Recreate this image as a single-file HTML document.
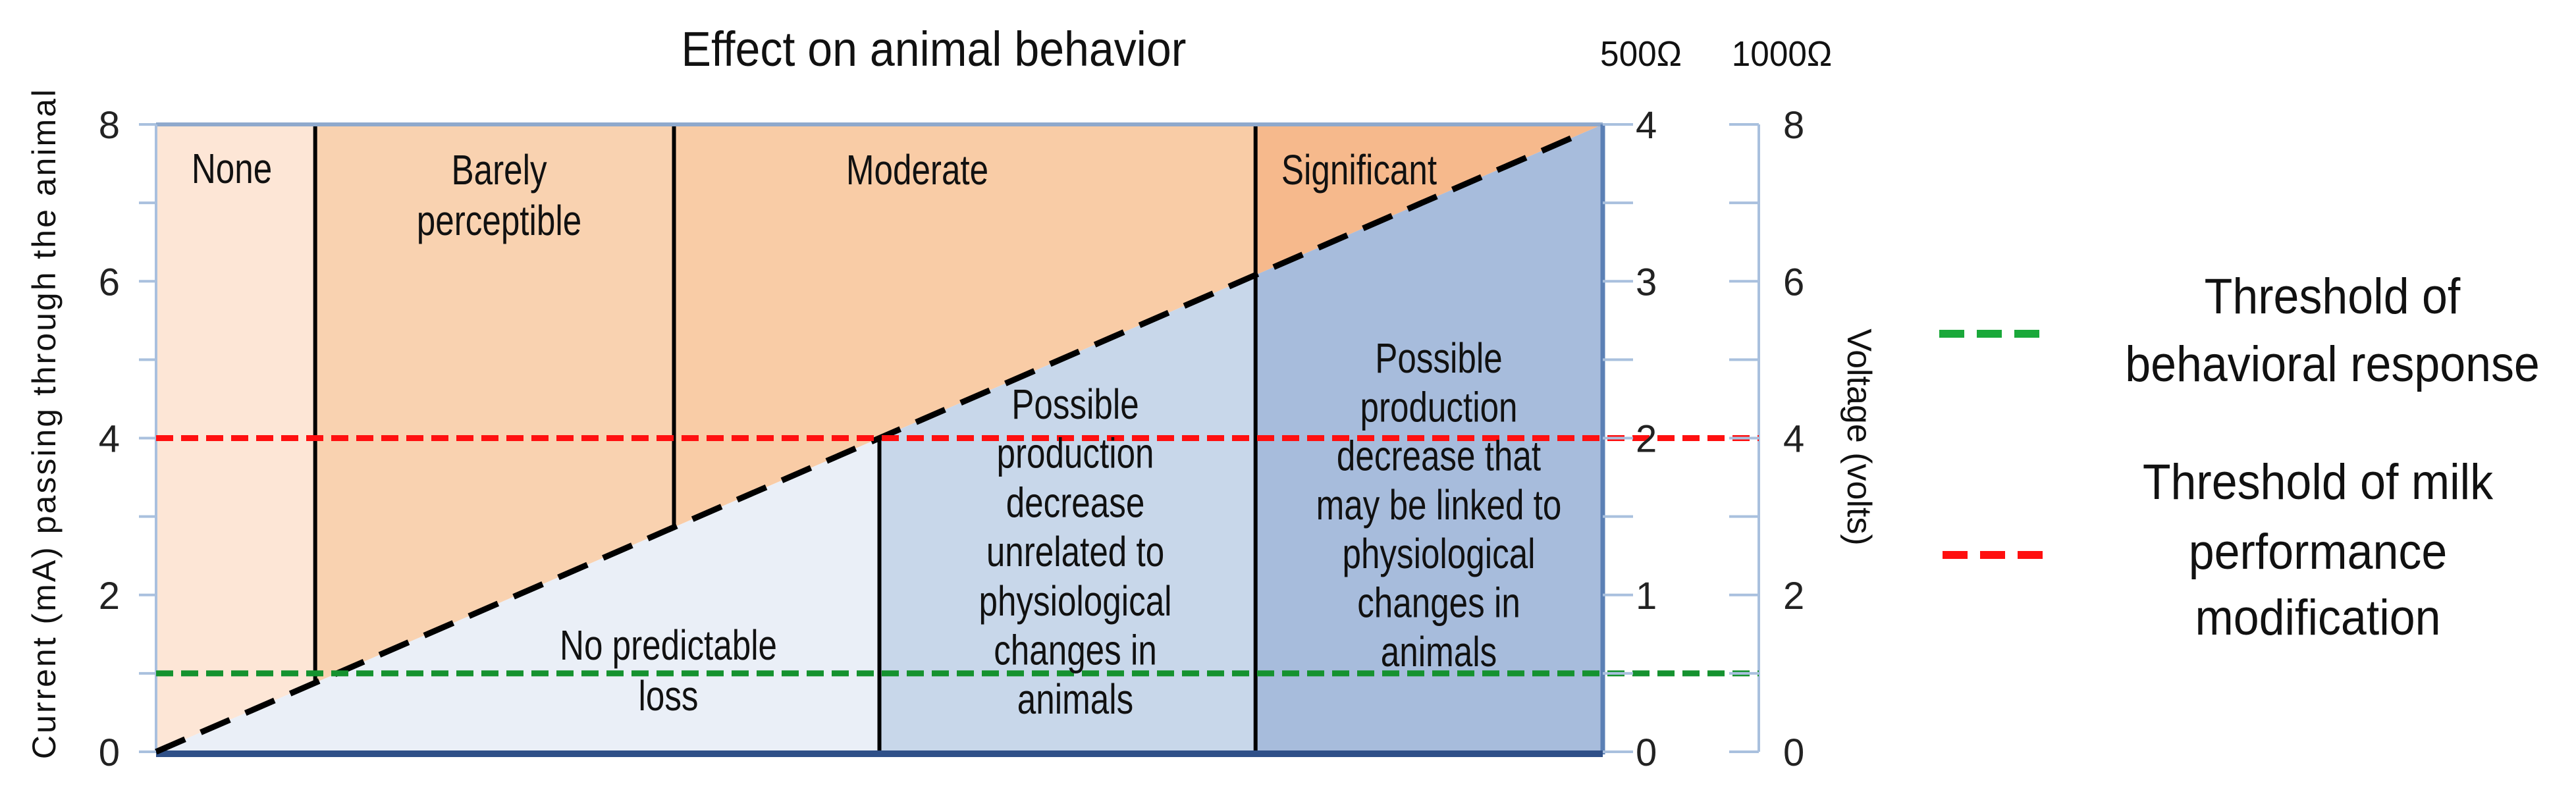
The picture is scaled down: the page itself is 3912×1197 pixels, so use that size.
<!DOCTYPE html>
<html><head><meta charset="utf-8"><style>
html,body{margin:0;padding:0;background:#fff;}
svg{display:block;}
text{font-family:"Liberation Sans",sans-serif;}
</style></head><body>
<svg id="chart" width="3912" height="1197" viewBox="0 0 3912 1197" xmlns="http://www.w3.org/2000/svg">
<g id="plot"></g>
</svg>
<script>
// data
const zoneBounds = [0, 11, 35.8, 100];
const effectNames = ["None", "Barely perceptible", "Moderate", "Significant"];
const effectBounds = [0, 11, 35.8, 76, 100];
const lossBounds = [0, 50, 76, 100];
const diagStart = [0, 0];
const diagEnd = [100, 8];
const thresholdValues = [1, 4];
const thresholdNames = ["behavioral-response", "milk-performance"];
const leftTicks = [0, 2, 4, 6, 8];
const right500Ticks = [0, 1, 2, 3, 4];
const right1000Ticks = [0, 2, 4, 6, 8];

const NS = "http://www.w3.org/2000/svg";
const L = 237, R = 2434, T = 189, B = 1142;
const xs = v => L + (v / 100) * (R - L);
const ys = v => B - (v / 8) * (B - T);
const ys500 = v => B - (v / 4) * (B - T);
const plot = document.getElementById('plot');
function mk(tag, attrs, parent, txt) {
  const e = document.createElementNS(NS, tag);
  for (const k in attrs) e.setAttribute(k, attrs[k]);
  if (txt !== undefined) e.textContent = txt;
  (parent || plot).appendChild(e);
  return e;
}
const dy = x => diagStart[1] + (diagEnd[1] - diagStart[1]) * (x - diagStart[0]) / (diagEnd[0] - diagStart[0]);

const upperColors = ["#fde6d6", "#f9d2b0", "#f9cca6", "#f6b98c"];
for (let i = 0; i < 4; i++) {
  const a = effectBounds[i], b = effectBounds[i + 1];
  const p = mk('polygon', {points: `${xs(a)},${ys(8)} ${xs(b)},${ys(8)} ${xs(b)},${ys(dy(b))} ${xs(a)},${ys(dy(a))}`, fill: upperColors[i]});
  
  
}
const lowerColors = ["#eaeff7", "#c8d7ea", "#a7bcdc"];
for (let i = 0; i < 3; i++) {
  const a = lossBounds[i], b = lossBounds[i + 1];
  const p = mk('polygon', {points: `${xs(a)},${ys(dy(a))} ${xs(b)},${ys(dy(b))} ${xs(b)},${ys(0)} ${xs(a)},${ys(0)}`, fill: lowerColors[i]});
  
  
}
[zoneBounds[1], zoneBounds[2]].forEach((v, i) => {
  const l = mk('line', {x1: xs(v), y1: ys(8), x2: xs(v), y2: ys(dy(v)), stroke: '#000', 'stroke-width': 6});
  
  
});
[lossBounds[1]].forEach(v => {
  const l = mk('line', {x1: xs(v), y1: ys(dy(v)), x2: xs(v), y2: ys(0), stroke: '#000', 'stroke-width': 6});
  
  
});
{
  const l = mk('line', {x1: xs(effectBounds[3]), y1: ys(8), x2: xs(effectBounds[3]), y2: ys(0), stroke: '#000', 'stroke-width': 6});
  
  
}
const fr1 = mk('line', {x1: L, y1: T, x2: R, y2: T, stroke: '#8fa9cc', 'stroke-width': 6});


const fr2 = mk('line', {x1: L, y1: T, x2: L, y2: B, stroke: '#a9c0de', 'stroke-width': 4});


const fr3 = mk('line', {x1: R, y1: T, x2: R, y2: B + 4, stroke: '#5b80b5', 'stroke-width': 7});


const fr4 = mk('line', {x1: L, y1: B + 3, x2: R, y2: B + 3, stroke: '#2f5088', 'stroke-width': 10});


const fr5 = mk('line', {x1: 2671, y1: T, x2: 2671, y2: B, stroke: '#a9c0de', 'stroke-width': 4});



const dg = mk('line', {x1: xs(diagStart[0]), y1: ys(diagStart[1]), x2: xs(diagEnd[0]) - 30, y2: ys(diagEnd[1]) + 13, stroke: '#000', 'stroke-width': 9, 'stroke-dasharray': '48 26'});



const thColors = ["#15922f", "#ff1010"];
thresholdValues.forEach((v, i) => {
  const l = mk('line', {x1: L, y1: ys(v), x2: 2671, y2: ys(v), stroke: thColors[i], 'stroke-width': 9, 'stroke-dasharray': '26 12'});
  
  
});

for (let v = 0; v <= 8; v++) {
  const t1 = mk('line', {x1: L - 26, y1: ys(v), x2: L, y2: ys(v), stroke: '#a9c0de', 'stroke-width': 4});
  
  
  const t2 = mk('line', {x1: R, y1: ys(v), x2: R + 46, y2: ys(v), stroke: '#a9c0de', 'stroke-width': 4});
  
  
  const t3 = mk('line', {x1: 2626, y1: ys(v), x2: 2671, y2: ys(v), stroke: '#a9c0de', 'stroke-width': 4});
  
  
}
leftTicks.forEach(v => {
  const t = mk('text', {x: 182, y: ys(v) + 21, 'font-size': 58, 'text-anchor': 'end', fill: '#222'}, plot, String(v));
  
  
});
right500Ticks.forEach(v => {
  const t = mk('text', {x: 2484, y: ys500(v) + 21, 'font-size': 58, fill: '#222'}, plot, String(v));
  
  
});
right1000Ticks.forEach(v => {
  const t = mk('text', {x: 2708, y: ys(v) + 21, 'font-size': 58, fill: '#222'}, plot, String(v));
  
  
});

function txt(name, x, y, size, s, sx, anchor) {
  const t = mk('text', {x: 0, y: 0, 'font-size': size, 'text-anchor': anchor || 'middle', fill: '#111'}, plot, s);
  t.setAttribute('transform', `translate(${x},${y}) scale(${sx || 1},1)`);
  
  
  return t;
}
txt('chart-title', 1418, 100, 74, 'Effect on animal behavior', 0.92);
txt('resistance-500-label', 2492, 100, 54, '500Ω', 0.95);
txt('resistance-1000-label', 2706, 100, 54, '1000Ω', 0.95);
const yt = mk('text', {x: 0, y: 0, 'font-size': 50, 'text-anchor': 'middle', fill: '#111', 'letter-spacing': '3'}, plot, 'Current  (mA) passing through the animal');
yt.setAttribute('transform', 'translate(84,643) rotate(-90)');


const vt = mk('text', {x: 0, y: 0, 'font-size': 52, 'text-anchor': 'middle', fill: '#111'}, plot, 'Voltage (volts)');
vt.setAttribute('transform', 'translate(2806,664) rotate(90)');



const S = 0.8, F = 64;
txt('label-none', 352, 278, F, 'None', S);
txt('label-barely', 758, 280, F, 'Barely', S);
txt('label-perceptible', 758, 357, F, 'perceptible', S);
txt('label-moderate', 1393, 280, F, 'Moderate', S);
txt('label-significant', 2064, 280, F, 'Significant', S);
txt('label-no-predictable', 1015, 1002, F, 'No predictable', S);
txt('label-loss', 1015, 1079, F, 'loss', S);
const mid = ['Possible', 'production', 'decrease', 'unrelated to', 'physiological', 'changes in', 'animals'];
mid.forEach((s, i) => txt('label-mid-zone-line', 1633, 636 + i * 74.7, F, s, S));
const rt = ['Possible', 'production', 'decrease that', 'may be linked to', 'physiological', 'changes in', 'animals'];
rt.forEach((s, i) => txt('label-right-zone-line', 2185, 566 + i * 74.3, F, s, S));

const lg1 = mk('line', {x1: 2945, y1: 507, x2: 3113, y2: 507, stroke: '#1aa83a', 'stroke-width': 12, 'stroke-dasharray': '38 19'});


const lg2 = mk('line', {x1: 2950, y1: 843, x2: 3118, y2: 843, stroke: '#ff1010', 'stroke-width': 12, 'stroke-dasharray': '38 19'});


txt('legend-behavioral-line1', 3542, 476, 76, 'Threshold of', 0.92);
txt('legend-behavioral-line2', 3542, 579, 76, 'behavioral response', 0.92);
txt('legend-milk-line1', 3520, 758, 76, 'Threshold of milk', 0.92);
txt('legend-milk-line2', 3520, 864, 76, 'performance', 0.92);
txt('legend-milk-line3', 3520, 964, 76, 'modification', 0.92);
</script>
</body></html>
